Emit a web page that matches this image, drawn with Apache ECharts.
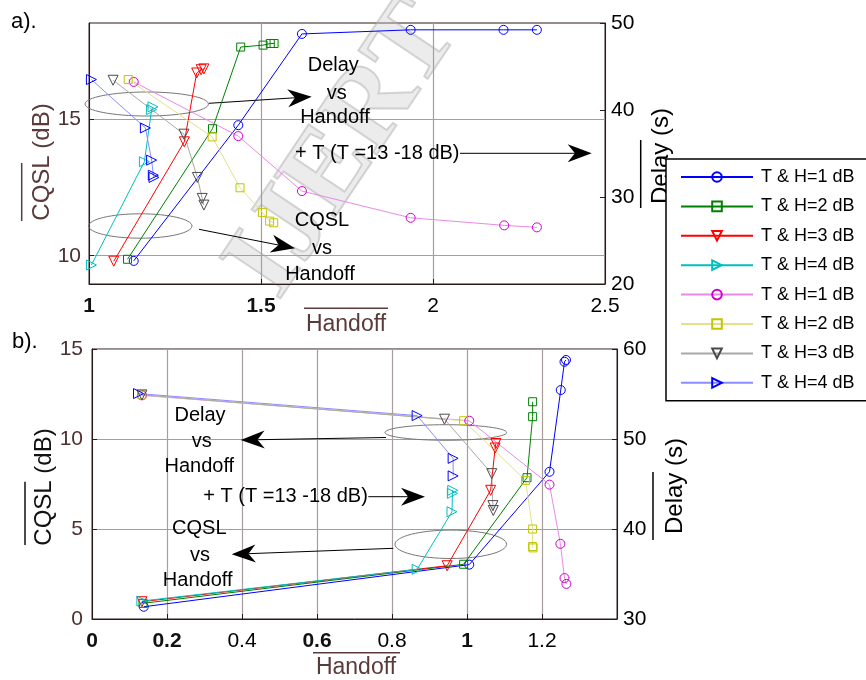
<!DOCTYPE html>
<html><head><meta charset="utf-8">
<script src="https://cdn.jsdelivr.net/npm/echarts@6/dist/echarts.min.js"></script>
<style>html,body{margin:0;padding:0;background:#fff}#c{width:866px;height:680px}</style>
</head><body><div id="c"></div>
<script>
// ---------- DATA ----------
const legendNames = ['T & H=1 dB','T & H=2 dB','T & H=3 dB','T & H=4 dB','T & H=1 dB ','T & H=2 dB ','T & H=3 dB ','T & H=4 dB '];

// (a) top panel : x = Handoff, series 1-4 on CQSL (dB) axis, 5-8 on Delay (s) axis
const aBlueX   = [1.130, 1.434, 1.619, 1.935, 2.205, 2.302];
const aBlueY   = [9.81, 14.78, 18.12, 18.27, 18.27, 18.27];
const aGreenX  = [1.112, 1.359, 1.441, 1.506, 1.527, 1.538];
const aGreenY  = [9.87, 14.65, 17.64, 17.71, 17.77, 17.77];
const aRedX    = [1.072, 1.277, 1.313, 1.326, 1.334];
const aRedY    = [9.80, 14.17, 16.69, 16.81, 16.84];
const aCyanX   = [1.007, 1.161, 1.182, 1.186];
const aCyanY   = [9.66, 13.44, 15.35, 15.45];
const aMagX    = [1.130, 1.434, 1.619, 1.935, 2.207, 2.302];
const aMagY    = [43.23, 37.0, 30.68, 27.61, 26.74, 26.51];
const aYelX    = [1.114, 1.358, 1.439, 1.504, 1.525, 1.537];
const aYelY    = [43.5, 36.91, 31.06, 28.23, 27.23, 27.04];
const aGrayX   = [1.070, 1.276, 1.315, 1.329, 1.334];
const aGrayY   = [43.42, 37.22, 32.25, 29.84, 29.07];
const aLBlueX  = [1.007, 1.164, 1.182, 1.187, 1.189];
const aLBlueY  = [43.5, 37.94, 34.24, 32.51, 32.25];

// (b) bottom panel
const bBlueX   = [0.138, 1.006, 1.220, 1.250, 1.260, 1.264];
const bBlueY   = [0.68, 3.02, 8.18, 12.72, 14.29, 14.39];
const bGreenX  = [0.136, 0.991, 1.160, 1.175, 1.175];
const bGreenY  = [0.87, 3.04, 7.85, 11.24, 12.07];
const bRedX    = [0.133, 0.947, 1.063, 1.075, 1.077];
const bRedY    = [0.96, 2.96, 7.15, 9.5, 9.75];
const bCyanX   = [0.133, 0.867, 0.960, 0.961, 0.962];
const bCyanY   = [1.0, 2.76, 5.96, 6.98, 7.15];
const bMagX    = [0.133, 1.006, 1.220, 1.249, 1.260, 1.265];
const bMagY    = [54.85, 52.03, 44.93, 38.35, 34.55, 33.9];
const bYelX    = [0.133, 0.991, 1.156, 1.175, 1.175, 1.176];
const bYelY    = [54.9, 52.03, 45.4, 40.0, 38.05, 37.9];
const bGrayX   = [0.133, 0.940, 1.066, 1.069, 1.070];
const bGrayY   = [54.9, 52.2, 46.15, 42.6, 42.05];
const bLBlueX  = [0.124, 0.867, 0.963, 0.963];
const bLBlueY  = [55.05, 52.6, 47.85, 45.9];

// axis ticks
const aXTicks = [1, 1.5, 2, 2.5];
const aCqslTicks = [10, 15];
const aDelayTicks = [20, 30, 40, 50];
const bXTicks = [0, 0.2, 0.4, 0.6, 0.8, 1, 1.2];
const bCqslTicks = [0, 5, 10, 15];
const bDelayTicks = [30, 40, 50, 60];

// ---------- STYLE ----------
const FONT = '"Liberation Sans", Arial, sans-serif';
const BROWN = '#4d3030';
const GRIDC = '#a99c9c';
const styles = [
  {sym:'circle',   rot:0,   mc:'#0000ff', lc:'#0000ff', size:9},
  {sym:'rect',     rot:0,   mc:'#008000', lc:'#008000', size:8},
  {sym:'triangle', rot:180, mc:'#ff0000', lc:'#ff0000', size:10},
  {sym:'triangle', rot:-90, mc:'#00bfbf', lc:'#00bfbf', size:10},
  {sym:'circle',   rot:0,   mc:'#d000d0', lc:'#e88ae8', size:9},
  {sym:'rect',     rot:0,   mc:'#c4c400', lc:'#e2e28a', size:8},
  {sym:'triangle', rot:180, mc:'#4a4a4a', lc:'#a8a8a8', size:10},
  {sym:'triangle', rot:-90, mc:'#0000ff', lc:'#8c8cff', size:10}
];

function mk(idx, xs, ys, xi, yi) {
  const s = styles[idx];
  return {
    type: 'line', name: legendNames[idx], xAxisIndex: xi, yAxisIndex: yi,
    data: xs.map((x, i) => [x, ys[i]]),
    symbol: s.sym, symbolRotate: s.rot, symbolSize: s.size, showSymbol: true,
    clip: false, animation: false, silent: true,
    lineStyle: {color: s.lc, width: 1},
    itemStyle: {color: 'rgba(255,255,255,0)', borderColor: s.mc, borderWidth: 1}
  };
}

const series = [
  mk(0, aBlueX, aBlueY, 0, 0), mk(1, aGreenX, aGreenY, 0, 0),
  mk(2, aRedX, aRedY, 0, 0), mk(3, aCyanX, aCyanY, 0, 0),
  mk(4, aMagX, aMagY, 0, 1), mk(5, aYelX, aYelY, 0, 1),
  mk(6, aGrayX, aGrayY, 0, 1), mk(7, aLBlueX, aLBlueY, 0, 1),
  mk(0, bBlueX, bBlueY, 1, 2), mk(1, bGreenX, bGreenY, 1, 2),
  mk(2, bRedX, bRedY, 1, 2), mk(3, bCyanX, bCyanY, 1, 2),
  mk(4, bMagX, bMagY, 1, 3), mk(5, bYelX, bYelY, 1, 3),
  mk(6, bGrayX, bGrayY, 1, 3), mk(7, bLBlueX, bLBlueY, 1, 3)
];

const lbl = (color, extra) => Object.assign({fontSize: 21, fontFamily: FONT, color: color}, extra || {});
const splitL = {show: true, lineStyle: {color: GRIDC, width: 1.2}};
const axLine = {show: true, lineStyle: {color: '#2a1a1a', width: 1}};
const tickIn = {show: true, inside: true, length: 5, lineStyle: {color: '#2a1a1a'}};
const rich = {b: {fontSize: 21, fontWeight: 'bold', fontFamily: FONT, color: '#111'}, n: {fontSize: 21, fontFamily: FONT, color: '#000'}};

// ---------- GRAPHIC (annotations) ----------
function txt(x, y, s, size, color, rot) {
  return {type: 'text', x: x, y: y, rotation: rot || 0, z: 1,
    style: {text: s, font: size + 'px ' + FONT, fill: color || '#000',
      align: 'center', verticalAlign: 'middle', textAlign: 'center', textVerticalAlign: 'middle'}};
}
function txtL(x, y, s, size) {
  return {type: 'text', x: x, y: y, z: 1,
    style: {text: s, font: size + 'px ' + FONT, fill: '#000',
      align: 'left', verticalAlign: 'middle', textAlign: 'left', textVerticalAlign: 'middle'}};
}
function ln(x1, y1, x2, y2, c, w) {
  return {type: 'line', z: 1, shape: {x1, y1, x2, y2}, style: {stroke: c || '#000', lineWidth: w || 1}};
}
function ell(cx, cy, rx, ry) {
  return {type: 'ellipse', z: 1, shape: {cx, cy, rx, ry}, style: {fill: null, stroke: '#777', lineWidth: 1}};
}
function arrow(x1, y1, x2, y2) {
  const dx = x2 - x1, dy = y2 - y1, len = Math.hypot(dx, dy), ux = dx / len, uy = dy / len;
  const nx = -uy, ny = ux, L = 24, W = 9;
  const bx = x2 - ux * L, by = y2 - uy * L, mx = x2 - ux * L * 0.7, my = y2 - uy * L * 0.7;
  return [ln(x1, y1, mx, my),
    {type: 'polygon', z: 1, shape: {points: [[x2, y2], [bx + nx * W, by + ny * W], [mx, my], [bx - nx * W, by - ny * W]]},
     style: {fill: '#000'}}];
}

const graphic = [
  {type: 'text', x: 345, y: 150, rotation: 0.98, z: 0,
   style: {text: 'IJERT', font: 'bold 112px "Liberation Serif", serif', fill: 'rgba(200,200,200,0.35)',
     stroke: 'rgba(160,160,160,0.45)', lineWidth: 2, align: 'center', verticalAlign: 'middle',
     textAlign: 'center', textVerticalAlign: 'middle'}},
  txtL(11, 22, 'a).', 22), txtL(12, 342, 'b).', 22),
  txt(42, 162, 'CQSL (dB)', 24, '#5a3a3a', Math.PI / 2), ln(21.7, 163, 21.7, 221, '#5a3a3a', 1.5),
  txt(661, 156, 'Delay (s)', 24, '#000', Math.PI / 2), ln(640.7, 140, 640.7, 208, '#000', 1.5),
  txt(346, 325, 'Handoff', 23, '#5a3a3a'), ln(304, 308.3, 388, 308.3, '#5a3a3a', 1.5),
  txt(44, 487, 'CQSL (dB)', 24, '#111', Math.PI / 2), ln(25, 481.7, 25, 545, '#111', 1.5),
  txt(675, 486, 'Delay (s)', 24, '#000', Math.PI / 2), ln(653, 472, 653, 540, '#000', 1.5),
  txt(356, 668, 'Handoff', 23, '#5a3a3a'), ln(313, 652.7, 400, 652.7, '#5a3a3a', 1.5),
  // top annotations
  ell(146.7, 104, 61.7, 12), ...arrow(209, 103.3, 311.7, 96.7),
  txt(333.3, 65.7, 'Delay', 20), txt(336.7, 93.3, 'vs', 20), txt(335, 117.3, 'Handoff', 20),
  txtL(295, 153.3, '+ T (T =13 -18 dB)', 20), ...arrow(460, 153.3, 591.7, 153.3),
  ell(140.3, 226, 51.7, 12.2), ...arrow(199, 229.3, 295, 248.3),
  txt(322, 220, 'CQSL', 20), txt(322, 248.3, 'vs', 20), txt(320, 274, 'Handoff', 20),
  // bottom annotations
  txt(200, 415, 'Delay', 20), txt(201.7, 441, 'vs', 20), txt(199.3, 466.7, 'Handoff', 20),
  ell(445.8, 432.5, 60.8, 7.8), ...arrow(386, 437.5, 240.7, 440),
  txtL(203.3, 496.7, '+ T (T =13 -18 dB)', 20), ...arrow(368.3, 496.7, 425, 496.7),
  txt(199.3, 528.3, 'CQSL', 20), txt(200, 555, 'vs', 20), txt(197.7, 580, 'Handoff', 20),
  ell(450.8, 544.3, 55.8, 14.2), ...arrow(393.3, 548.3, 231.7, 554.3)
];

const option = {
  animation: false,
  backgroundColor: '#fff',
  grid: [
    {left: 89, top: 23, width: 516, height: 261, show: true, borderColor: '#2a1a1a', borderWidth: 1,
     backgroundColor: 'rgba(0,0,0,0)', containLabel: false, outerBoundsMode: 'none'},
    {left: 92, top: 349, width: 525, height: 270, show: true, borderColor: '#2a1a1a', borderWidth: 1,
     backgroundColor: 'rgba(0,0,0,0)', containLabel: false, outerBoundsMode: 'none'}
  ],
  xAxis: [
    {type: 'value', gridIndex: 0, min: aXTicks[0], max: aXTicks[aXTicks.length - 1], interval: 0.5,
     axisLine: axLine, axisTick: tickIn, splitLine: splitL,
     axisLabel: {margin: 12, showMinLabel: true, showMaxLabel: true, rich: rich,
       formatter: v => (aXTicks.indexOf(v) < 2 ? '{b|' : '{n|') + v + '}'}},
    {type: 'value', gridIndex: 1, min: 0, max: 1.4, interval: 0.2,
     axisLine: axLine, axisTick: tickIn, splitLine: splitL,
     axisLabel: {margin: 12, showMinLabel: true, showMaxLabel: true, rich: rich,
       formatter: v => {
         const r = Math.round(v * 10) / 10;
         if (bXTicks.indexOf(r) < 0) return '';
         const bold = (r === 0 || r === 0.2 || r === 0.6 || r === 1);
         return (bold ? '{b|' : '{n|') + r + '}';
       }}}
  ],
  yAxis: [
    {type: 'value', gridIndex: 0, position: 'left', min: 8.965, max: 18.52,
     axisLine: axLine, axisTick: Object.assign({customValues: aCqslTicks}, tickIn), splitLine: splitL,
     axisLabel: lbl(BROWN, {margin: 8, customValues: aCqslTicks})},
    {type: 'value', gridIndex: 0, position: 'right', min: 20, max: 50, interval: 10,
     axisLine: axLine, axisTick: tickIn, splitLine: {show: false},
     axisLabel: lbl('#000', {margin: 6, showMinLabel: true, showMaxLabel: true})},
    {type: 'value', gridIndex: 1, position: 'left', min: 0, max: 15, interval: 5,
     axisLine: axLine, axisTick: tickIn, splitLine: splitL,
     axisLabel: lbl(BROWN, {margin: 9, showMinLabel: true, showMaxLabel: true})},
    {type: 'value', gridIndex: 1, position: 'right', min: 30, max: 60, interval: 10,
     axisLine: axLine, axisTick: tickIn, splitLine: {show: false},
     axisLabel: lbl('#000', {margin: 6, showMinLabel: true, showMaxLabel: true})}
  ],
  legend: {
    data: legendNames, orient: 'vertical', left: 666, top: 159,
    itemWidth: 72, itemHeight: 12, itemGap: 11.4, selectedMode: false,
    padding: [9, 40, 9, 14], borderColor: '#000', borderWidth: 1.5, backgroundColor: '#fff',
    textStyle: {fontSize: 18, fontFamily: FONT, color: '#000', lineHeight: 18, padding: [0, 0, 0, 3]},
    z: 10
  },
  graphic: graphic,
  series: series
};

const chart = echarts.init(document.getElementById('c'), null, {renderer: 'canvas'});
chart.setOption(option);
</script>
</body></html>
